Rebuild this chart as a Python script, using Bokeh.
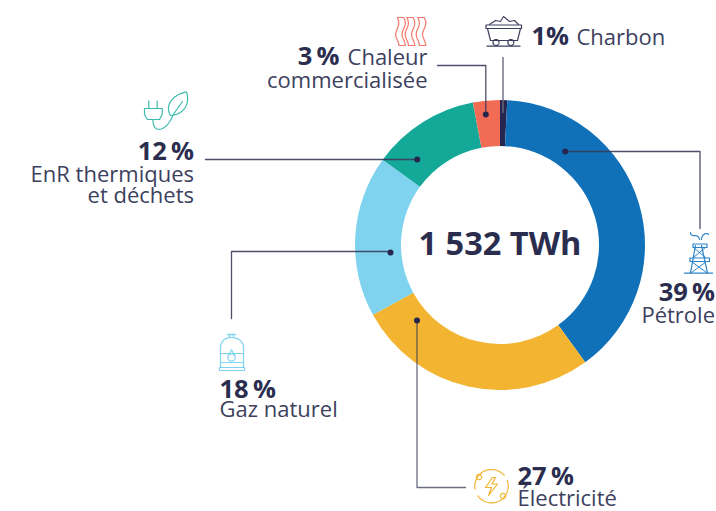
import numpy as np
from bokeh.plotting import figure
from bokeh.models import Range1d
from bokeh.core.properties import value
from bokeh.embed import file_html
from bokeh.resources import INLINE

# ---- data (clockwise from 12 o'clock) ----
categories = ["Charbon", "Pétrole", "Électricité", "Gaz naturel", "EnR thermiques et déchets", "Chaleur commercialisée"]
shares = [0.8, 39.2, 27, 18, 12, 3]
colors = ["#26264f", "#1071b9", "#f2b431", "#7fd3ef", "#13a898", "#f26b55"]
total_label = "1 532 TWh"

DARK = "#2b2d4f"
TXT = "#3d3f5e"
FONT = "Open Sans"

p = figure(width=716, height=511, output_backend="svg", toolbar_location=None,
           x_range=Range1d(0, 716), y_range=Range1d(-511, 0), min_border=0,
           x_axis_location=None, y_axis_location=None, outline_line_color=None,
           background_fill_color="white", border_fill_color="white")
p.grid.visible = False

CX, CY, R_OUT, R_IN = 499.5, 244.5, 145, 99
cum = np.cumsum([0] + shares) / sum(shares) * 2 * np.pi
p.annular_wedge(x=[CX] * 6, y=[-CY] * 6, inner_radius=R_IN, outer_radius=R_OUT,
                start_angle=list(np.pi / 2 - cum[1:]), end_angle=list(np.pi / 2 - cum[:-1]),
                fill_color=colors, line_color=None)


def L(pts, color, w=1.2, closed=False, alpha=1.0):
    a = np.array(pts, float)
    if closed:
        a = np.vstack([a, a[0]])
    p.line(a[:, 0], -a[:, 1], line_color=color, line_width=w, line_cap="round", line_join="round", line_alpha=alpha)


def circ(cx, cy, r, color, w=1.2, a0=0, a1=360):
    t = np.radians(np.linspace(a0, a1, 60))
    L(np.c_[cx + r * np.cos(t), cy + r * np.sin(t)], color, w)


def bez(P0, P1, P2, P3, n=24):
    t = np.linspace(0, 1, n)[:, None]
    P0, P1, P2, P3 = map(lambda q: np.array(q, float), (P0, P1, P2, P3))
    return (1 - t) ** 3 * P0 + 3 * (1 - t) ** 2 * t * P1 + 3 * (1 - t) * t ** 2 * P2 + t ** 3 * P3


# ---- leader lines ----
LEAD = "#3a3c5a"
L([(502.5, 57), (502.5, 112)], "#6a6c82", 1.4)
L([(437, 65), (485.3, 65), (485.3, 114)], LEAD, 1.3, alpha=0.9)
L([(564.7, 151), (699.5, 151), (699.5, 228)], LEAD, 1.3, alpha=0.9)
L([(416.7, 159), (205, 159)], LEAD, 1.3, alpha=0.9)
L([(390, 251), (231, 251), (231, 318)], LEAD, 1.3, alpha=0.9)
L([(416.5, 320), (416.5, 487), (465, 487)], LEAD, 1.3, alpha=0.75)
p.scatter([485.3, 564.7, 416.7, 390, 416.5], [-114, -151, -159, -252, -320], size=6, color="#26264f", line_color=None)


# ---- texts ----
def T(x, y, s, size, bold=False, align="left", color=None):
    p.text([x], [-(y - 0.38 * size)], text=[s], text_font=value(FONT), text_font_size=f"{size}px",
           text_font_style="bold" if bold else "normal", text_align=align,
           text_baseline="alphabetic", text_color=color or (DARK if bold else TXT))


BIG, REG = 25.5, 22
T(CX, 254, total_label, 32.5, True, "center")
T(531, 44, "1%", BIG, True)
T(576, 44, "Charbon", REG)
T(339, 64, "3\u2009%", BIG, True, "right")
T(427, 64, "Chaleur", REG, False, "right")
T(427, 87, "commercialisée", REG, False, "right")
T(193.5, 159, "12\u2009%", BIG, True, "right")
T(193.5, 181, "EnR thermiques", REG, False, "right")
T(193.5, 202, "et déchets", REG, False, "right")
T(219, 397, "18\u2009%", BIG, True)
T(219, 416, "Gaz naturel", REG)
T(517, 484, "27\u2009%", BIG, True)
T(517, 504.5, "Électricité", REG)
T(714.5, 300, "39\u2009%", BIG, True, "right")
T(714.5, 322, "Pétrole", REG, False, "right")

# ---- icons ----
# heat waves
HEAT = "#f4776a"
yy = np.linspace(17, 45, 40)
for x0 in (400, 409.5, 420.5):
    w = 1.6 * np.sin((yy - 17) / 28 * 2 * np.pi * 1.25)
    left = np.c_[x0 - 3.2 + w, yy]
    right = np.c_[x0 + 3.2 + w, yy][::-1]
    L(np.vstack([left, right]), HEAT, 1.2, True)

# coal cart
CART = "#3d3f5e"
L([(485.5, 28), (521, 28), (521, 24.5), (485.5, 24.5)], CART, 1.2, True)
L([(487, 28), (490, 40), (517, 40), (520, 28)], CART, 1.2)
L([(489, 24), (495, 20), (500, 21), (503, 16), (509, 21), (514, 20), (518, 24)], CART, 1.1)
circ(495.5, 42, 3, CART)
circ(510.3, 42, 3, CART)
L([(486.5, 45.7), (519.5, 45.7)], CART, 1.2)

# plug and leaf
TEAL = "#3dbcae"
L([(148.3, 100.7), (148.3, 108)], TEAL)
L([(156.7, 100.7), (156.7, 108)], TEAL)
L([(144, 108), (161.7, 108), (161.7, 114), (159, 119), (147, 119), (144, 114)], TEAL, 1.2, True)
L(bez((152.5, 119.5), (152, 132), (164, 133), (172, 116)), TEAL)
L(np.vstack([bez((170, 115), (164, 105), (172, 94), (186, 91.5)),
             bez((186, 91.5), (190, 104), (183, 114), (170, 115))]), TEAL)
L([(172, 115), (182, 101)], TEAL)

# gas bottle
GAS = "#7fd3ef"
L([(227, 334), (235, 334)], GAS, 1.4)
L([(229, 334), (229, 337)], GAS)
L([(233, 334), (233, 337)], GAS)
L(bez((220, 346), (221, 340), (225, 337), (231, 337)), GAS)
L(bez((231, 337), (237, 337), (242, 340), (243, 346)), GAS)
L([(220, 346), (220, 367)], GAS)
L([(243, 346), (243, 367)], GAS)
L([(220, 353), (243, 353)], GAS)
L([(220, 362), (243, 362)], GAS)
L([(219, 367), (244, 367), (244, 370), (219, 370)], GAS, 1.2, True)
circ(231, 357, 3.6, GAS)
L([(231, 349.5), (228, 355)], GAS)
L([(231, 349.5), (234.5, 355)], GAS)

# electricity
ELEC = "#f2b431"
circ(491, 485.7, 16.7, ELEC, 1.2, -20, 145)
circ(491, 485.7, 16.7, ELEC, 1.2, 170, 320)
circ(478.5, 476.5, 2.6, ELEC)
circ(502.5, 495.5, 2.6, ELEC)
L([(492, 477), (485, 487), (491, 487), (488, 495), (497, 483.5), (491.5, 483.5), (495, 477)], ELEC, 1.2, True)

# derrick
OIL = "#2b84c9"
L([(684, 272.7), (712, 272.7)], OIL, 1.3)
L([(690, 272.7), (695, 245)], OIL)
L([(707, 272.7), (701, 245)], OIL)
L([(692.5, 243.5), (706.5, 243.5), (706.5, 247), (692.5, 247)], OIL, 1.2, True)
L([(689.5, 257.5), (709, 257.5), (709, 261), (689.5, 261)], OIL, 1.2, True)
L([(693, 247), (705, 257)], OIL, 1)
L([(705, 247), (693, 257)], OIL, 1)
L([(691, 261), (706, 272)], OIL, 1)
L([(706, 261), (691, 272)], OIL, 1)
L(bez((699, 239), (698, 232), (690, 238), (690, 232)), OIL)
L(bez((701, 239), (701, 233), (707, 232), (708, 234)), OIL)

open("out.html", "w").write(file_html(p, INLINE))
